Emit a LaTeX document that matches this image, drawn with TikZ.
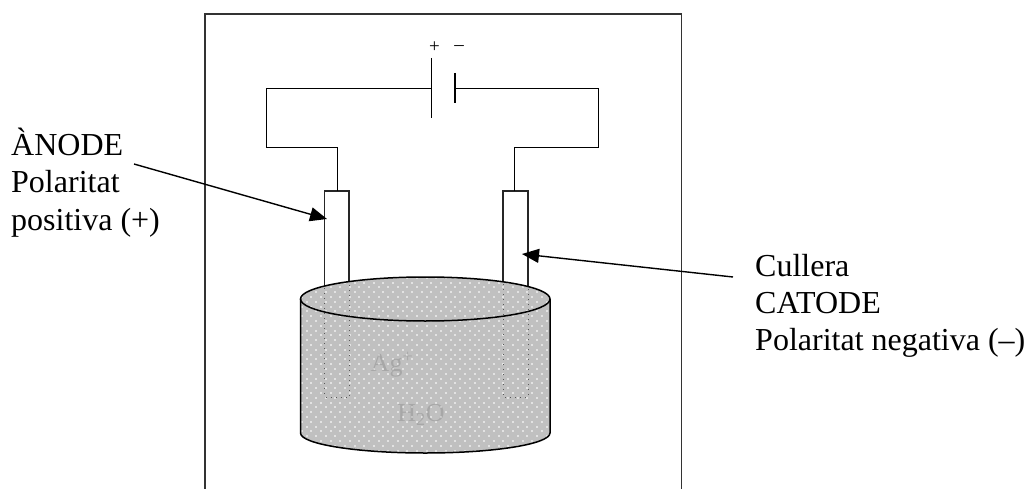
\documentclass[tikz,border=0pt]{standalone}
\usepackage{fontspec}
\setmainfont{Liberation Serif}
\usetikzlibrary{arrows.meta}
\definecolor{liquid}{HTML}{C0C0C0}
\definecolor{speck}{HTML}{E2E2E2}
\tikzset{
  x=1pt,y=-1pt,
  thinline/.style={draw=black,line width=0.9pt},
  frameline/.style={draw=black!80,line width=1.3pt},
  plate/.style={draw=black,line width=1.8pt},
  electrode/.style={draw=black!85,line width=1.2pt},
  hidden/.style={draw=black!65,line width=0.7pt,dash pattern=on 1pt off 4pt},
  rim/.style={draw=black,line width=1.5pt},
  pointer/.style={draw=black,line width=1.4pt,-{Triangle[length=17pt,width=14pt]}},
  label/.style={font=\fontsize{32}{37.2}\selectfont,align=left,anchor=north west,inner sep=0pt},
  sign/.style={font=\fontsize{19}{20}\selectfont,inner sep=0pt},
  ghost/.style={font=\fontsize{26}{27}\selectfont,text=black,inner sep=0pt,opacity=.13}
}
\begin{document}
\begin{tikzpicture}
\useasboundingbox (0,0) rectangle (1027,489);
\fill[white] (0,0) rectangle (1027,489);
% frame
\coordinate (fbl) at (205,489);
\coordinate (ftl) at (205,14);
\coordinate (ftr) at (681.5,14);
\coordinate (fbr) at (681.5,489);
\draw[frameline] (fbl) -- (ftl) -- (ftr) -- (fbr);
% electrodes
\draw[electrode] (324.5,286) -- (324.5,191) -- (349,191) -- (349,281.5);
\draw[electrode] (503,281.5) -- (503,191) -- (528,191) -- (528,286.5);
\coordinate (anodeTop) at (337,191);
\coordinate (cathodeTop) at (514,191);
% battery
\coordinate (plateP) at (431.5,88);
\coordinate (plateN) at (455,88);
\draw[plate] (431.5,58) -- (431.5,118);
\draw[plate] (455,73) -- (455,103);
% wires
\draw[thinline] (plateP) -- (266,88) -- (266,147) -- (337,147) -- (anodeTop);
\draw[thinline] (plateN) -- (598,88) -- (598,147) -- (514,147) -- (cathodeTop);
\node[sign] (plus) at (434.5,47) {+};
\node[sign] (minus) at (459,48) {–};
% vessel
\begin{scope}
\clip (300.5,299) -- (300.5,433) arc[start angle=180,end angle=0,x radius=124.75,y radius=20] -- (550,299) arc[start angle=0,end angle=-180,x radius=124.75,y radius=22] -- cycle;
\fill[liquid] (295,270) rectangle (555,460);
\foreach \r in {0,...,39}{
  \pgfmathsetmacro{\off}{mod(\r,2)*4.8}
  \foreach \c in {0,...,27}{
    \fill[speck] ({296+\c*9.6+\off},{272+\r*4.8}) rectangle +(2,2);
  }
}
\end{scope}
\draw[rim] (300.5,299) -- (300.5,433) arc[start angle=180,end angle=0,x radius=124.75,y radius=20] -- (550,299);
\draw[rim] (425.25,299) ellipse[x radius=124.75,y radius=22];
% hidden part of electrodes
\draw[hidden] (324.5,288) -- (324.5,397) -- (349,397) -- (349,284);
\draw[hidden] (503,284) -- (503,397) -- (528,397) -- (528,288);
% ghost labels
\node[ghost] (ion) at (392,365) {Ag\textsuperscript{+}};
\node[ghost] (water) at (421,415) {H\textsubscript{2}O};
% labels
\node[label] (anode) at (11,128) {ÀNODE\\Polaritat\\positiva (+)};
\node[label] (cathode) at (755,254) {Cullera\\CATODE\\Polaritat negativa (–)};
\coordinate (anodeStart) at (134,164);
\coordinate (anodeTip) at (327,219);
\coordinate (cathodeStart) at (733,277);
\coordinate (cathodeTip) at (522,254);
\draw[pointer] (anodeStart) -- (anodeTip);
\draw[pointer] (cathodeStart) -- (cathodeTip);
\end{tikzpicture}
\end{document}
